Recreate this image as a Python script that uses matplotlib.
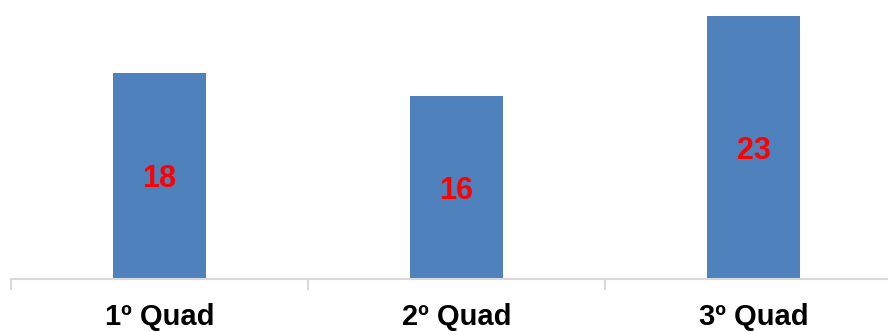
import matplotlib
matplotlib.use("Agg")
import matplotlib.pyplot as plt

categories = ["1º Quad", "2º Quad", "3º Quad"]
values = [18, 16, 23]

bar_color = "#4F81BD"
label_color = "#FF0000"
axis_color = "#D9D9D9"

plt.rcParams["font.family"] = ["Liberation Sans", "DejaVu Sans"]

fig = plt.figure(figsize=(8.88, 3.31), dpi=100)
ax = fig.add_axes([11 / 888, 52 / 331, 877 / 888, 279 / 331])

x = list(range(len(categories)))
bars = ax.bar(x, values, width=0.313, color=bar_color, zorder=2)

for xi, v in zip(x, values):
    ax.text(xi, v / 2, str(v), ha="center", va="center_baseline", color=label_color,
            fontsize=22, fontweight="bold", zorder=3)

ax.set_xlim(-0.5, -0.5 + 877 / 297)
ax.set_ylim(0, 24.37)

for side in ("top", "right", "left"):
    ax.spines[side].set_visible(False)
ax.spines["bottom"].set_color(axis_color)
ax.spines["bottom"].set_linewidth(1.5)

ax.set_yticks([])
# boundary ticks between categories
ax.set_xticks([-0.5 + i for i in range(len(categories))])
ax.set_xticklabels([])
ax.tick_params(axis="x", which="major", length=8, width=1.5, color=axis_color)
# category labels centred under each bar
ax.set_xticks(x, minor=True)
ax.set_xticklabels(categories, minor=True, fontsize=21, fontweight="bold")
ax.tick_params(axis="x", which="minor", length=0, pad=17)

fig.savefig("out.png", dpi=100)
